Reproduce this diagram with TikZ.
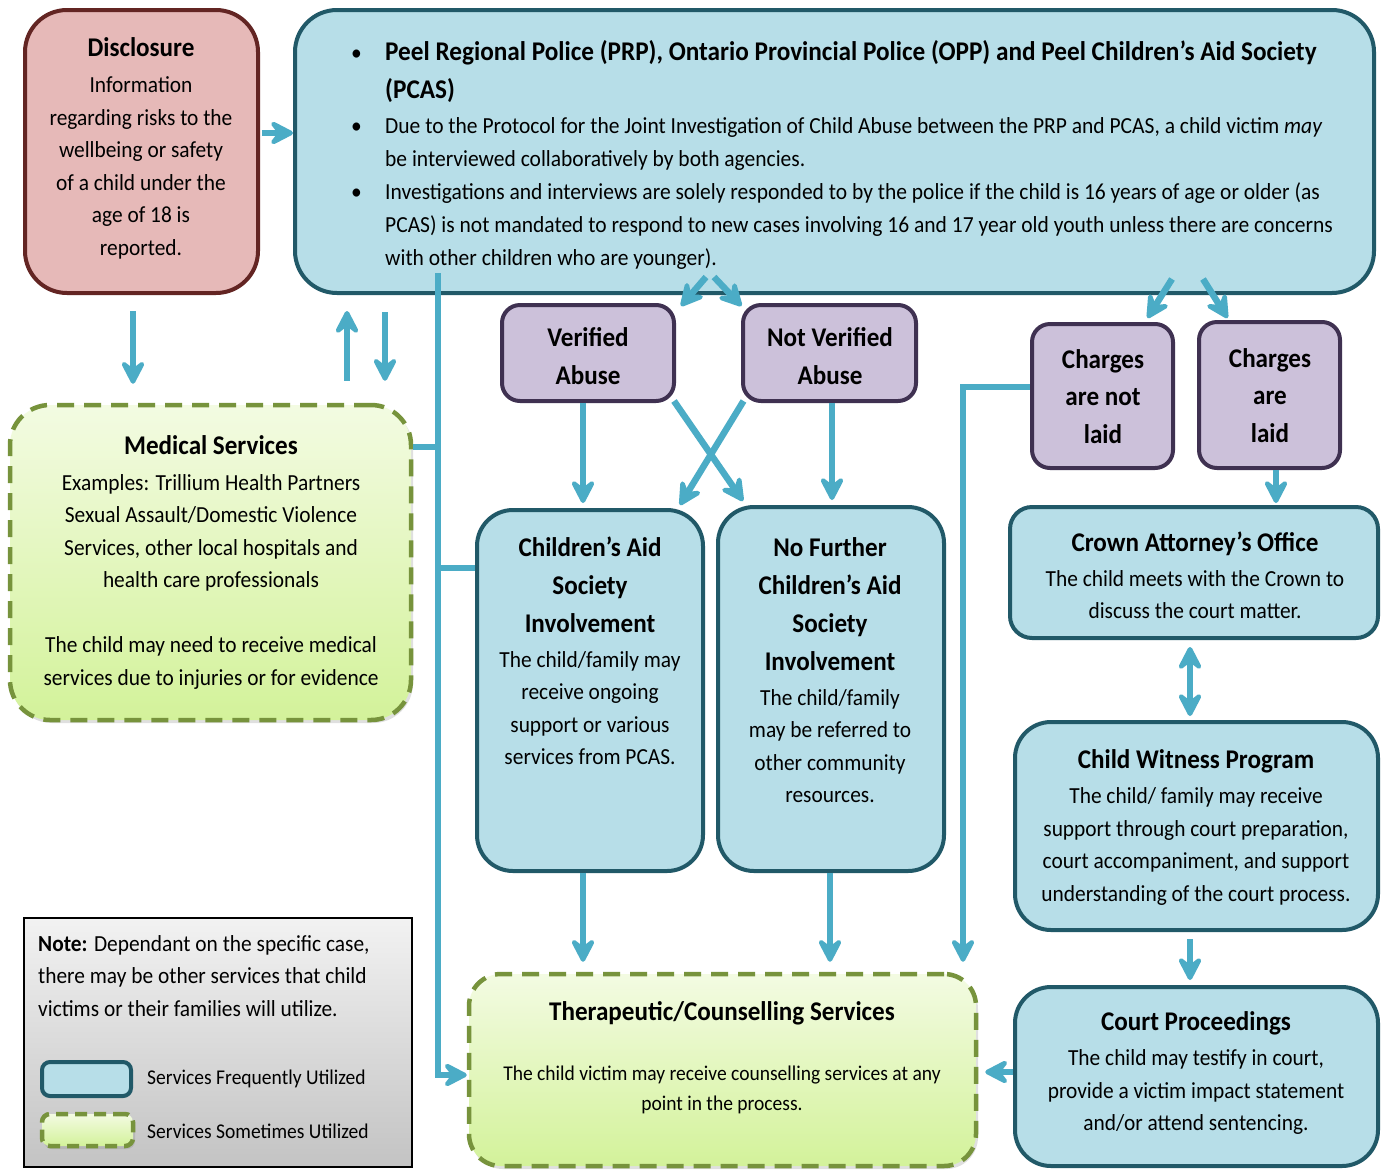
\documentclass[tikz,border=0pt]{standalone}
\usepackage{fontspec}
\setmainfont{Carlito}[FakeStretch=0.93]
\newfontfamily\prpf{Carlito}[FakeStretch=0.935]
\usetikzlibrary{arrows.meta,calc,shadows}
\definecolor{bluefill}{HTML}{B7DEE8}
\definecolor{blueline}{HTML}{215968}
\definecolor{pinkfill}{HTML}{E6B9B8}
\definecolor{pinkline}{HTML}{632523}
\definecolor{purpfill}{HTML}{CCC1DA}
\definecolor{purpline}{HTML}{3F3151}
\definecolor{greentop}{HTML}{F3FBE2}
\definecolor{greenbot}{HTML}{D3F29A}
\definecolor{greenline}{HTML}{77933C}
\definecolor{arrowc}{HTML}{4BACC6}
\definecolor{notetop}{HTML}{F2F2F2}
\definecolor{notebot}{HTML}{C3C3C3}
\newcommand\tit{\bfseries\fontsize{27}{32.5}\selectfont}
\begin{document}
\begin{tikzpicture}[x=1pt,y=-1pt,
  bluebox/.style={draw=blueline,fill=bluefill,line width=4pt},
  pinkbox/.style={draw=pinkline,fill=pinkfill,line width=4pt},
  purpbox/.style={draw=purpline,fill=purpfill,line width=4pt,rounded corners=18pt},
  greenbox/.style={draw=greenline,top color=greentop,bottom color=greenbot,line width=4.5pt,
     dash pattern=on 17pt off 10pt,drop shadow={opacity=0.25,shadow xshift=2pt,shadow yshift=-3pt}},
  notebox/.style={draw=black,top color=notetop,bottom color=notebot,line width=1.8pt},
  txt/.style={align=center,inner sep=0pt,font=\fontsize{23}{32.5}\selectfont},
  ptxt/.style={align=center,inner sep=0pt,font=\bfseries\fontsize{27}{37.5}\selectfont},
  arr/.style={draw=arrowc,line width=6.5pt,-{Stealth[length=30pt,width=31pt,inset=12pt,round]}},
  darr/.style={draw=arrowc,line width=6.5pt,{Stealth[length=30pt,width=31pt,inset=12pt,round]}-{Stealth[length=30pt,width=31pt,inset=12pt,round]}},
  line/.style={draw=arrowc,line width=6.5pt}]
\useasboundingbox[fill=white] (0,0) rectangle (1384,1171);

% boxes
\node[pinkbox,rounded corners=42pt,minimum width=233pt,minimum height=283pt] (disc) at (141.5,151.5) {};
\node[bluebox,rounded corners=42pt,minimum width=1079pt,minimum height=283pt] (prp) at (834.5,151.5) {};
\node[purpbox,minimum width=172pt,minimum height=96pt] (ver) at (588,353) {};
\node[purpbox,minimum width=173pt,minimum height=96pt] (nver) at (829.5,353) {};
\node[purpbox,minimum width=141pt,minimum height=144pt] (cnl) at (1102.5,396) {};
\node[purpbox,minimum width=141pt,minimum height=146pt] (cl) at (1269.5,395) {};
\node[greenbox,rounded corners=40pt,minimum width=401pt,minimum height=315pt] (med) at (210.5,562.5) {};
\node[bluebox,rounded corners=36pt,minimum width=226pt,minimum height=361pt] (cas) at (590,690.5) {};
\node[bluebox,rounded corners=36pt,minimum width=226pt,minimum height=364pt] (nfc) at (831,689) {};
\node[bluebox,rounded corners=22pt,minimum width=368pt,minimum height=131pt] (crown) at (1194,572.5) {};
\node[bluebox,rounded corners=36pt,minimum width=363pt,minimum height=208pt] (cwp) at (1196.5,826) {};
\node[bluebox,rounded corners=36pt,minimum width=363pt,minimum height=179pt] (court) at (1196.5,1076.5) {};
\node[greenbox,rounded corners=32pt,minimum width=507pt,minimum height=192pt] (ther) at (722.5,1070) {};
\node[notebox,minimum width=388pt,minimum height=249pt] (note) at (218,1042.5) {};
\node[bluebox,rounded corners=8pt,minimum width=89pt,minimum height=34pt] (leg1) at (86.5,1079) {};
\node[greenbox,drop shadow={opacity=0},rounded corners=8pt,minimum width=91pt,minimum height=32pt,dash pattern=on 12pt off 7pt] (leg2) at (87.5,1130) {};

% texts
\node[txt] (disct) at (141,148.5) {{\tit Disclosure}\\[3.5pt]Information\\regarding risks to the\\wellbeing or safety\\of a child under the\\age of 18 is\\reported.};
\node[anchor=north west,inner sep=0pt,font=\prpf\fontsize{23}{33}\selectfont] (prpt) at (351,37) {%
\begin{tabular}{@{}p{34pt}@{}l@{}}
\textbullet & {\bfseries\fontsize{27}{33}\selectfont Peel Regional Police (PRP), Ontario Provincial Police (OPP) and Peel Children’s Aid Society}\\[5pt]
 & {\bfseries\fontsize{27}{33}\selectfont (PCAS)}\\[2pt]
\textbullet & Due to the Protocol for the Joint Investigation of Child Abuse between the PRP and PCAS, a child victim \textit{may}\\
 & be interviewed collaboratively by both agencies.\\
\textbullet & Investigations and interviews are solely responded to by the police if the child is 16 years of age or older (as\\
 & PCAS) is not mandated to respond to new cases involving 16 and 17 year old youth unless there are concerns\\
 & with other children who are younger).
\end{tabular}};
\node[ptxt] (vert) at (588,356) {Verified\\Abuse};
\node[ptxt] (nvert) at (830,356) {Not Verified\\Abuse};
\node[ptxt] (cnlt) at (1103,396.5) {Charges\\are not\\laid};
\node[ptxt] (clt) at (1270,395.5) {Charges\\are\\laid};
\node[txt] (medt) at (211,562) {{\tit Medical Services}\\[3.5pt]Examples: Trillium Health Partners\\Sexual Assault/Domestic Violence\\Services, other local hospitals and\\health care professionals\\[32.5pt]The child may need to receive medical\\services due to injuries or for evidence};
\node[txt] (cast) at (590,651) {{\tit Children’s Aid}\\[5.5pt]{\tit Society}\\[5.5pt]{\tit Involvement}\\[2.5pt]The child/family may\\receive ongoing\\support or various\\services from PCAS.};
\node[txt] (nfct) at (830,670) {{\tit No Further}\\[5.5pt]{\tit Children’s Aid}\\[5.5pt]{\tit Society}\\[5.5pt]{\tit Involvement}\\[2.5pt]The child/family\\may be referred to\\other community\\resources.};
\node[txt] (crownt) at (1195,575.5) {{\tit Crown Attorney’s Office}\\[2.5pt]The child meets with the Crown to\\discuss the court matter.};
\node[txt] (cwpt) at (1196,827.5) {{\tit Child Witness Program}\\[2.5pt]The child/ family may receive\\support through court preparation,\\court accompaniment, and support\\understanding of the court process.};
\node[txt] (courtt) at (1196,1073) {{\tit Court Proceedings}\\[2.5pt]The child may testify in court,\\provide a victim impact statement\\and/or attend sentencing.};
\node[txt,font=\fontsize{21}{30}\selectfont] (thert) at (722,1058) {{\tit Therapeutic/Counselling Services}\\[30pt]The child victim may receive counselling services at any\\point in the process.};
\node[txt,align=left,anchor=west] (notet) at (38,976) {\textbf{Note:} Dependant on the specific case,\\there may be other services that child\\victims or their families will utilize.};
\node[txt,anchor=west,font=\fontsize{21}{30}\selectfont] (leg1t) at (147,1079) {Services Frequently Utilized};
\node[txt,anchor=west,font=\fontsize{21}{30}\selectfont] (leg2t) at (147,1131) {Services Sometimes Utilized};

% connectors
\coordinate (trunk) at ($(prp.south)+(-396.5,-22)$);
\draw[line] ($(med.east)+(0,-115.5)$) -| (trunk);
\draw[line] ($(cas.west)+(0,-122.5)$) -| (trunk);
\draw[arr] (trunk) |- ($(ther.west)+(0,5)$);
\draw[arr] ($(disc.east)+(2,-18.5)$) -- ($(prp.west)+(0,-18.5)$);
\draw[arr] ($(disc.south)+(-8.5,16)$) -- ($(med.north)+(-77.5,-19)$);
\draw[arr] ($(med.north)+(136.5,-22)$) -- ($(prp.south)+(-487.5,16)$);
\draw[arr] ($(prp.south)+(-449.5,17)$) -- ($(med.north)+(174.5,-22)$);
\draw[arr] ($(prp.south)+(-128.5,-18)$) -- ($(ver.north)+(93,3)$);
\draw[arr] ($(prp.south)+(-120.5,-18)$) -- ($(nver.north)+(-88,3)$);
\draw[arr] ($(prp.south)+(337.5,-16)$) -- ($(cnl.north)+(45,-4)$);
\draw[arr] ($(prp.south)+(368.5,-16)$) -- ($(cl.north)+(-42,-2)$);
\draw[arr] ($(ver.south)+(-5,0)$) -- ($(cas.north)+(-7,-5)$);
\draw[arr] ($(nver.south)+(2.5,0)$) -- ($(nfc.north)+(1,-5)$);
\draw[arr] ($(ver.south)+(86,-2)$) -- ($(nfc.north)+(-88,-4)$);
\draw[arr] ($(nver.south)+(-86,-2)$) -- ($(cas.north)+(90,-3)$);
\draw[arr] ($(cl.south)+(6.5,0)$) -- ($(crown.north)+(82,-2)$);
\draw[darr] ($(crown.south)+(-4,7)$) -- ($(cwp.north)+(-6.5,-4)$);
\draw[arr] ($(cwp.south)+(-6.5,7)$) -- ($(court.north)+(-6.5,-5)$);
\draw[arr] ($(court.west)+(0,-4.5)$) -- ($(ther.east)+(7,2)$);
\draw[arr] ($(cas.south)+(-7,0)$) -- ($(ther.north)+(-139.5,-10)$);
\draw[arr] ($(nfc.south)+(-1,0)$) -- ($(ther.north)+(107.5,-10)$);
\draw[arr] ($(cnl.west)+(0,-9)$) -| ($(ther.north)+(240.5,-10)$);
\end{tikzpicture}
\end{document}
